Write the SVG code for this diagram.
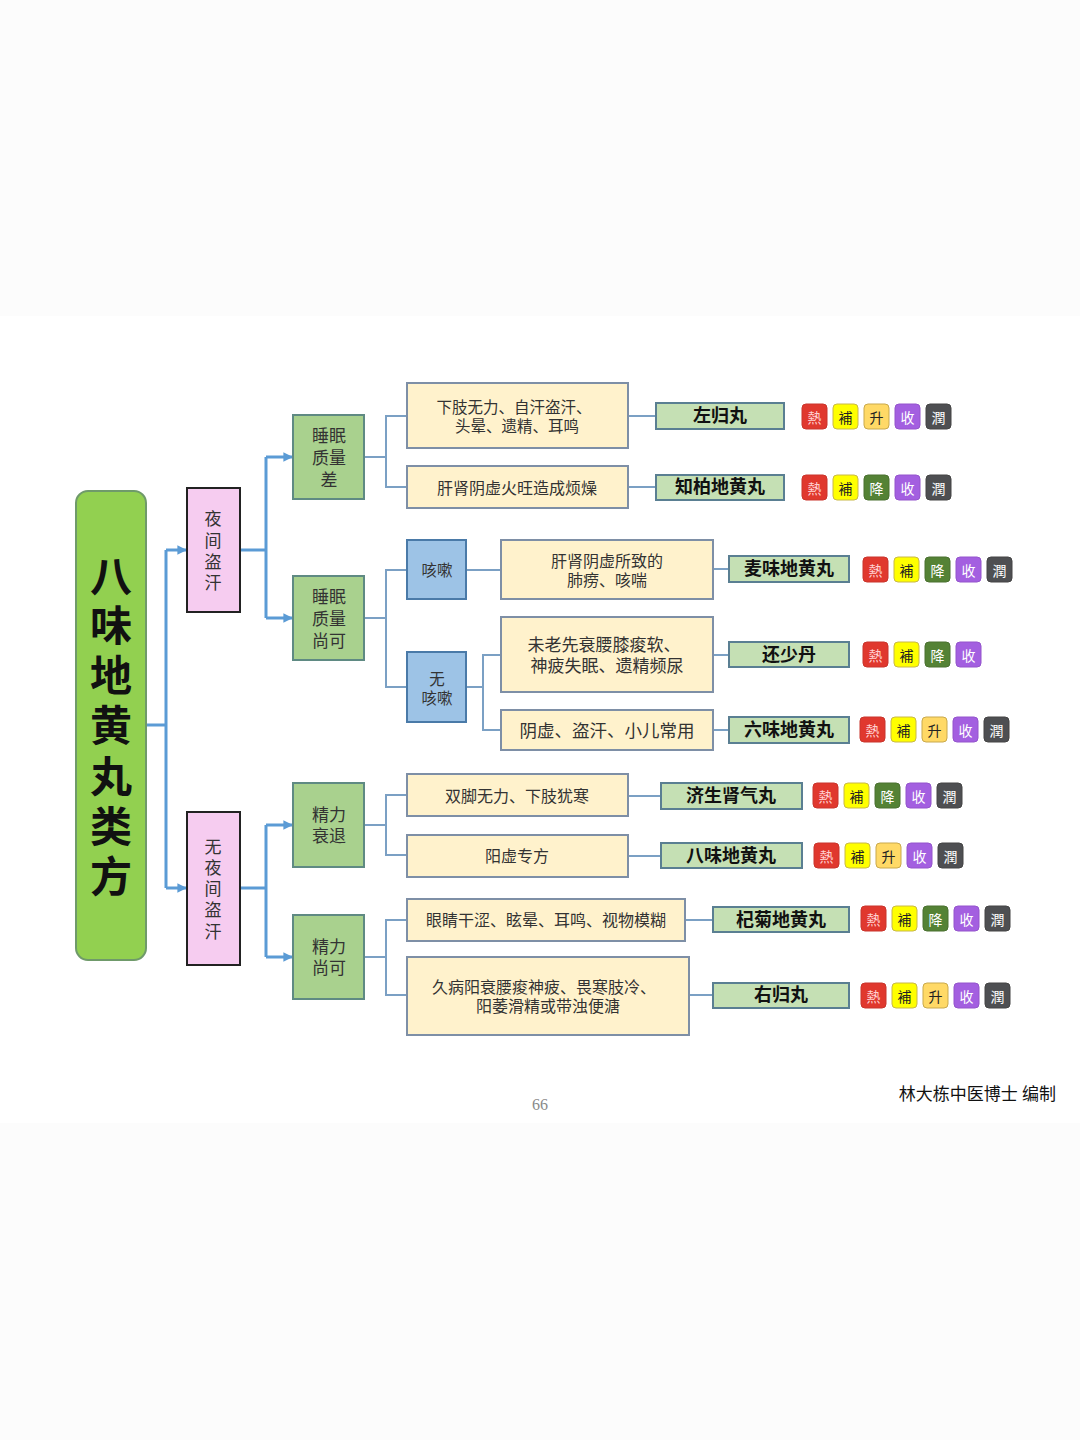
<svg xmlns="http://www.w3.org/2000/svg" width="1080" height="1440" viewBox="0 0 1080 1440">
<defs>
<marker id="arr" viewBox="0 0 10 10" refX="9" refY="5" markerWidth="3.2" markerHeight="3.2" orient="auto" markerUnits="strokeWidth">
<path d="M0,0 L10,5 L0,10 z" fill="#5b9bd5"/>
</marker>
<style>
.t{font-family:"Liberation Serif","Noto Sans CJK SC",serif;fill:#333;text-anchor:middle;dominant-baseline:central}
.title{font-size:42px;font-weight:bold;fill:#111}
.l1{fill:#f6ccf0;stroke:#222;stroke-width:2}
.l2{fill:#a9d18e;stroke:#5f8a83;stroke-width:2}
.bl{fill:#9dc3e6;stroke:#4a7aa8;stroke-width:2}
.sy{fill:#fff2cc;stroke:#7e8fa6;stroke-width:2}
.fm{fill:#c5e0b4;stroke:#5a7f92;stroke-width:2}
.fmt{font-size:18px;font-weight:bold;fill:#111}
.s17{font-size:17px}
.s18{font-size:17.5px}
.s16{font-size:16px}
.s15{font-size:15.5px}
.big{stroke:#5b9bd5;stroke-width:3;fill:none}
.thin{stroke:#7ba0c4;stroke-width:2;fill:none}
.tt{font-family:"Noto Sans CJK SC",sans-serif;font-size:14px;text-anchor:middle;dominant-baseline:central}
.re{fill:#e0382e;stroke:#c9352c}
.ye{fill:#ffff00;stroke:#c8b848}
.or{fill:#ffd966;stroke:#c9a94c}
.gr{fill:#548235;stroke:#4a7030}
.pu{fill:#a35fe0;stroke:#9455cc}
.dk{fill:#4e4f52;stroke:#444}
.w{fill:#fff}
.wp{fill:#ffd0d0}
.k{fill:#222}
</style>
</defs>
<rect x="0" y="0" width="1080" height="1440" fill="#fcfcfc"/>
<rect x="0" y="316" width="1080" height="807" fill="#ffffff"/>

<g id="connectors">
<polyline class="big" points="146,725 166,725"/>
<polyline class="big" points="166,550 166,888"/>
<line class="big" x1="166" y1="550" x2="186" y2="550" marker-end="url(#arr)"/>
<line class="big" x1="166" y1="888" x2="186" y2="888" marker-end="url(#arr)"/>
<polyline class="big" points="240,550 266,550"/>
<polyline class="big" points="266,457 266,618"/>
<line class="big" x1="266" y1="457" x2="292" y2="457" marker-end="url(#arr)"/>
<line class="big" x1="266" y1="618" x2="292" y2="618" marker-end="url(#arr)"/>
<polyline class="big" points="240,888 266,888"/>
<polyline class="big" points="266,825 266,957"/>
<line class="big" x1="266" y1="825" x2="292" y2="825" marker-end="url(#arr)"/>
<line class="big" x1="266" y1="957" x2="292" y2="957" marker-end="url(#arr)"/>

<polyline class="thin" points="364,457 386,457"/>
<polyline class="thin" points="407,416 386,416 386,487 407,487"/>
<polyline class="thin" points="364,618 386,618"/>
<polyline class="thin" points="407,570 386,570 386,687 407,687"/>
<polyline class="thin" points="466,570 501,570"/>
<polyline class="thin" points="466,687 483,687"/>
<polyline class="thin" points="501,655 483,655 483,730 501,730"/>
<polyline class="thin" points="364,825 386,825"/>
<polyline class="thin" points="407,795 386,795 386,855 407,855"/>
<polyline class="thin" points="364,957 386,957"/>
<polyline class="thin" points="407,920 386,920 386,995 407,995"/>

<line class="thin" x1="628" y1="416" x2="656" y2="416"/>
<line class="thin" x1="628" y1="487" x2="656" y2="487"/>
<line class="thin" x1="713" y1="569" x2="729" y2="569"/>
<line class="thin" x1="713" y1="655" x2="729" y2="655"/>
<line class="thin" x1="713" y1="730" x2="729" y2="730"/>
<line class="thin" x1="628" y1="796" x2="661" y2="796"/>
<line class="thin" x1="628" y1="856" x2="661" y2="856"/>
<line class="thin" x1="685" y1="920" x2="713" y2="920"/>
<line class="thin" x1="689" y1="995" x2="713" y2="995"/>
</g>

<g id="title">
<rect x="76" y="491" width="70" height="469" rx="12" fill="#92d050" stroke="#6f9a6a" stroke-width="2"/>
<text class="t title" x="111" y="578">八</text>
<text class="t title" x="111" y="627">味</text>
<text class="t title" x="111" y="677">地</text>
<text class="t title" x="111" y="727">黄</text>
<text class="t title" x="111" y="778">丸</text>
<text class="t title" x="111" y="828">类</text>
<text class="t title" x="111" y="878">方</text>
</g>

<g id="n-yjdh">
<rect class="l1" x="187" y="488" width="53" height="124"/>
<text class="t s17" x="213" y="519">夜</text>
<text class="t s17" x="213" y="541">间</text>
<text class="t s17" x="213" y="562">盗</text>
<text class="t s17" x="213" y="583">汗</text>
</g>
<g id="n-wyjdh">
<rect class="l1" x="187" y="812" width="53" height="153"/>
<text class="t s17" x="213" y="847">无</text>
<text class="t s17" x="213" y="868">夜</text>
<text class="t s17" x="213" y="889">间</text>
<text class="t s17" x="213" y="910">盗</text>
<text class="t s17" x="213" y="932">汗</text>
</g>

<g id="n-smzlc">
<rect class="l2" x="293" y="415" width="71" height="84"/>
<text class="t s17" x="329" y="436">睡眠</text>
<text class="t s17" x="329" y="458">质量</text>
<text class="t s17" x="329" y="480">差</text>
</g>
<g id="n-smzlsk">
<rect class="l2" x="293" y="576" width="71" height="84"/>
<text class="t s17" x="329" y="597">睡眠</text>
<text class="t s17" x="329" y="619">质量</text>
<text class="t s17" x="329" y="641">尚可</text>
</g>
<g id="n-jlst">
<rect class="l2" x="293" y="783" width="71" height="84"/>
<text class="t s17" x="329" y="815">精力</text>
<text class="t s17" x="329" y="836">衰退</text>
</g>
<g id="n-jlsk">
<rect class="l2" x="293" y="915" width="71" height="84"/>
<text class="t s17" x="329" y="947">精力</text>
<text class="t s17" x="329" y="968">尚可</text>
</g>

<g id="n-ks">
<rect class="bl" x="407" y="540" width="59" height="59"/>
<text class="t s15" x="437" y="570">咳嗽</text>
</g>
<g id="n-wks">
<rect class="bl" x="407" y="652" width="59" height="70"/>
<text class="t s15" x="437" y="679">无</text>
<text class="t s15" x="437" y="698">咳嗽</text>
</g>

<g id="s1">
<rect class="sy" x="407" y="383" width="221" height="65"/>
<text class="t s15" x="514" y="407">下肢无力、自汗盗汗、</text>
<text class="t s15" x="517" y="426">头晕、遗精、耳鸣</text>
</g>
<g id="s2">
<rect class="sy" x="407" y="466" width="221" height="42"/>
<text class="t s16" x="517" y="488">肝肾阴虚火旺造成烦燥</text>
</g>
<g id="s3">
<rect class="sy" x="501" y="540" width="212" height="59"/>
<text class="t s16" x="607" y="561">肝肾阴虚所致的</text>
<text class="t s16" x="607" y="580">肺痨、咳喘</text>
</g>
<g id="s4">
<rect class="sy" x="501" y="617" width="212" height="75"/>
<text class="t s17" x="604" y="645">未老先衰腰膝痠软、</text>
<text class="t s17" x="607" y="666">神疲失眠、遗精频尿</text>
</g>
<g id="s5">
<rect class="sy" x="501" y="710" width="212" height="40"/>
<text class="t s18" x="607" y="731">阴虚、盗汗、小儿常用</text>
</g>
<g id="s6">
<rect class="sy" x="407" y="774" width="221" height="42"/>
<text class="t s16" x="517" y="796">双脚无力、下肢犹寒</text>
</g>
<g id="s7">
<rect class="sy" x="407" y="835" width="221" height="42"/>
<text class="t s16" x="517" y="856">阳虚专方</text>
</g>
<g id="s8">
<rect class="sy" x="407" y="899" width="278" height="42"/>
<text class="t s16" x="546" y="920">眼睛干涩、眩晕、耳鸣、视物模糊</text>
</g>
<g id="s9">
<rect class="sy" x="407" y="957" width="282" height="78"/>
<text class="t s16" x="544" y="987">久病阳衰腰痠神疲、畏寒肢冷、</text>
<text class="t s16" x="548" y="1006">阳萎滑精或带浊便溏</text>
</g>

<g id="f1">
<rect class="fm" x="656" y="403" width="128" height="26"/>
<text class="t fmt" x="720" y="416">左归丸</text>
</g>
<g id="f2">
<rect class="fm" x="656" y="475" width="128" height="25"/>
<text class="t fmt" x="720" y="487">知柏地黄丸</text>
</g>
<g id="f3">
<rect class="fm" x="729" y="556" width="120" height="26"/>
<text class="t fmt" x="789" y="569">麦味地黄丸</text>
</g>
<g id="f4">
<rect class="fm" x="729" y="642" width="120" height="25"/>
<text class="t fmt" x="789" y="655">还少丹</text>
</g>
<g id="f5">
<rect class="fm" x="729" y="717" width="120" height="26"/>
<text class="t fmt" x="789" y="730">六味地黄丸</text>
</g>
<g id="f6">
<rect class="fm" x="661" y="783" width="141" height="26"/>
<text class="t fmt" x="731" y="796">济生肾气丸</text>
</g>
<g id="f7">
<rect class="fm" x="661" y="843" width="141" height="25"/>
<text class="t fmt" x="731" y="856">八味地黄丸</text>
</g>
<g id="f8">
<rect class="fm" x="713" y="907" width="136" height="25"/>
<text class="t fmt" x="781" y="920">杞菊地黄丸</text>
</g>
<g id="f9">
<rect class="fm" x="713" y="983" width="136" height="25"/>
<text class="t fmt" x="781" y="995">右归丸</text>
</g>

<g id="tags1">
<rect class="re" x="802" y="404" width="25" height="25" rx="4"/><text class="tt wp" x="814.5" y="416.5">熱</text>
<rect class="ye" x="833" y="404" width="25" height="25" rx="4"/><text class="tt k" x="845.5" y="416.5">補</text>
<rect class="or" x="864" y="404" width="25" height="25" rx="4"/><text class="tt k" x="876.5" y="416.5">升</text>
<rect class="pu" x="895" y="404" width="25" height="25" rx="4"/><text class="tt w" x="907.5" y="416.5">收</text>
<rect class="dk" x="926" y="404" width="25" height="25" rx="4"/><text class="tt w" x="938.5" y="416.5">潤</text>
</g>
<g id="tags2">
<rect class="re" x="802" y="475" width="25" height="25" rx="4"/><text class="tt wp" x="814.5" y="487.5">熱</text>
<rect class="ye" x="833" y="475" width="25" height="25" rx="4"/><text class="tt k" x="845.5" y="487.5">補</text>
<rect class="gr" x="864" y="475" width="25" height="25" rx="4"/><text class="tt w" x="876.5" y="487.5">降</text>
<rect class="pu" x="895" y="475" width="25" height="25" rx="4"/><text class="tt w" x="907.5" y="487.5">收</text>
<rect class="dk" x="926" y="475" width="25" height="25" rx="4"/><text class="tt w" x="938.5" y="487.5">潤</text>
</g>
<g id="tags3">
<rect class="re" x="863" y="557" width="25" height="25" rx="4"/><text class="tt wp" x="875.5" y="569.5">熱</text>
<rect class="ye" x="894" y="557" width="25" height="25" rx="4"/><text class="tt k" x="906.5" y="569.5">補</text>
<rect class="gr" x="925" y="557" width="25" height="25" rx="4"/><text class="tt w" x="937.5" y="569.5">降</text>
<rect class="pu" x="956" y="557" width="25" height="25" rx="4"/><text class="tt w" x="968.5" y="569.5">收</text>
<rect class="dk" x="987" y="557" width="25" height="25" rx="4"/><text class="tt w" x="999.5" y="569.5">潤</text>
</g>
<g id="tags4">
<rect class="re" x="863" y="642" width="25" height="25" rx="4"/><text class="tt wp" x="875.5" y="654.5">熱</text>
<rect class="ye" x="894" y="642" width="25" height="25" rx="4"/><text class="tt k" x="906.5" y="654.5">補</text>
<rect class="gr" x="925" y="642" width="25" height="25" rx="4"/><text class="tt w" x="937.5" y="654.5">降</text>
<rect class="pu" x="956" y="642" width="25" height="25" rx="4"/><text class="tt w" x="968.5" y="654.5">收</text>
</g>
<g id="tags5">
<rect class="re" x="860" y="717" width="25" height="25" rx="4"/><text class="tt wp" x="872.5" y="729.5">熱</text>
<rect class="ye" x="891" y="717" width="25" height="25" rx="4"/><text class="tt k" x="903.5" y="729.5">補</text>
<rect class="or" x="922" y="717" width="25" height="25" rx="4"/><text class="tt k" x="934.5" y="729.5">升</text>
<rect class="pu" x="953" y="717" width="25" height="25" rx="4"/><text class="tt w" x="965.5" y="729.5">收</text>
<rect class="dk" x="984" y="717" width="25" height="25" rx="4"/><text class="tt w" x="996.5" y="729.5">潤</text>
</g>
<g id="tags6">
<rect class="re" x="813" y="783" width="25" height="25" rx="4"/><text class="tt wp" x="825.5" y="795.5">熱</text>
<rect class="ye" x="844" y="783" width="25" height="25" rx="4"/><text class="tt k" x="856.5" y="795.5">補</text>
<rect class="gr" x="875" y="783" width="25" height="25" rx="4"/><text class="tt w" x="887.5" y="795.5">降</text>
<rect class="pu" x="906" y="783" width="25" height="25" rx="4"/><text class="tt w" x="918.5" y="795.5">收</text>
<rect class="dk" x="937" y="783" width="25" height="25" rx="4"/><text class="tt w" x="949.5" y="795.5">潤</text>
</g>
<g id="tags7">
<rect class="re" x="814" y="843" width="25" height="25" rx="4"/><text class="tt wp" x="826.5" y="855.5">熱</text>
<rect class="ye" x="845" y="843" width="25" height="25" rx="4"/><text class="tt k" x="857.5" y="855.5">補</text>
<rect class="or" x="876" y="843" width="25" height="25" rx="4"/><text class="tt k" x="888.5" y="855.5">升</text>
<rect class="pu" x="907" y="843" width="25" height="25" rx="4"/><text class="tt w" x="919.5" y="855.5">收</text>
<rect class="dk" x="938" y="843" width="25" height="25" rx="4"/><text class="tt w" x="950.5" y="855.5">潤</text>
</g>
<g id="tags8">
<rect class="re" x="861" y="906" width="25" height="25" rx="4"/><text class="tt wp" x="873.5" y="918.5">熱</text>
<rect class="ye" x="892" y="906" width="25" height="25" rx="4"/><text class="tt k" x="904.5" y="918.5">補</text>
<rect class="gr" x="923" y="906" width="25" height="25" rx="4"/><text class="tt w" x="935.5" y="918.5">降</text>
<rect class="pu" x="954" y="906" width="25" height="25" rx="4"/><text class="tt w" x="966.5" y="918.5">收</text>
<rect class="dk" x="985" y="906" width="25" height="25" rx="4"/><text class="tt w" x="997.5" y="918.5">潤</text>
</g>
<g id="tags9">
<rect class="re" x="861" y="983" width="25" height="25" rx="4"/><text class="tt wp" x="873.5" y="995.5">熱</text>
<rect class="ye" x="892" y="983" width="25" height="25" rx="4"/><text class="tt k" x="904.5" y="995.5">補</text>
<rect class="or" x="923" y="983" width="25" height="25" rx="4"/><text class="tt k" x="935.5" y="995.5">升</text>
<rect class="pu" x="954" y="983" width="25" height="25" rx="4"/><text class="tt w" x="966.5" y="995.5">收</text>
<rect class="dk" x="985" y="983" width="25" height="25" rx="4"/><text class="tt w" x="997.5" y="995.5">潤</text>
</g>

<g id="footer">
<text class="t" x="540" y="1104" style="font-size:16px;fill:#8a8a8a">66</text>
<text class="t" x="1056" y="1094" style="font-size:17px;fill:#111;text-anchor:end">林大栋中医博士 编制</text>
</g>
</svg>
